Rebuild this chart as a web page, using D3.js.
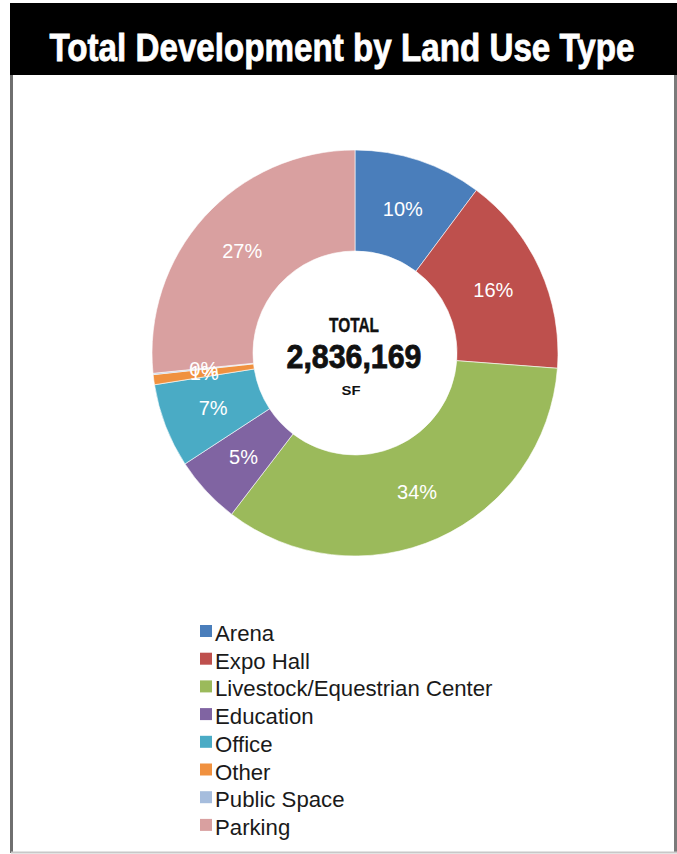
<!DOCTYPE html>
<html>
<head>
<meta charset="utf-8">
<script src="https://cdn.jsdelivr.net/npm/d3@7"></script>
<style>
  html, body { margin: 0; padding: 0; background: #ffffff; }
  svg { display: block; }
</style>
</head>
<body>
<svg id="chart" width="677" height="854"></svg>
<script>
// Land use categories and their share of total development (percent of SF)
const categories = ["Arena", "Expo Hall", "Livestock/Equestrian Center", "Education", "Office", "Other", "Public Space", "Parking"];
const shares = [10.2, 16.0, 34.2, 5.4, 6.7, 0.8, 0.1, 26.6];
const colors = ["#4a7ebb", "#be504d", "#9bba5b", "#8064a2", "#4aabc5", "#f0913f", "#a6bddd", "#d9a0a0"];
const titleText = "Total Development by Land Use Type";
const totalLabel = "TOTAL";
const totalValue = 2836169;
const totalUnit = "SF";

const svg = d3.select("#chart");

// Frame
svg.append("line").attr("x1", 11.5).attr("x2", 11.5).attr("y1", 70).attr("y2", 853)
  .attr("stroke", "#6f6f6f").attr("stroke-width", 3);
svg.append("line").attr("x1", 675.5).attr("x2", 675.5).attr("y1", 70).attr("y2", 853)
  .attr("stroke", "#7a7a7a").attr("stroke-width", 3);
svg.append("line").attr("x1", 11).attr("x2", 677).attr("y1", 852.5).attr("y2", 852.5)
  .attr("stroke", "#c8c8c8").attr("stroke-width", 2);

// Title bar
svg.append("rect").attr("x", 10).attr("y", 3).attr("width", 667).attr("height", 72).attr("fill", "#000000");
svg.append("text")
  .attr("x", 342).attr("y", 61)
  .attr("text-anchor", "middle")
  .attr("font-family", "'Liberation Sans Narrow', 'Arial Narrow', 'Liberation Sans', sans-serif")
  .attr("font-weight", "bold")
  .attr("font-size", 39)
  .attr("textLength", 585)
  .attr("lengthAdjust", "spacingAndGlyphs")
  .attr("stroke", "#ffffff")
  .attr("stroke-width", 0.8)
  .attr("fill", "#ffffff")
  .text(titleText);

// Donut
const cx = 355, cy = 353, rOuter = 203, rInner = 102;
const data = categories.map((c, i) => ({ name: c, value: shares[i], color: colors[i] }));
const pie = d3.pie().value(d => d.value).sort(null);
const arc = d3.arc().innerRadius(rInner).outerRadius(rOuter);
const labelArc = d3.arc().innerRadius(152).outerRadius(152);

const g = svg.append("g").attr("transform", `translate(${cx},${cy})`);
const arcs = pie(data);

g.selectAll("path.slice")
  .data(arcs)
  .join("path")
  .attr("class", "slice")
  .attr("d", arc)
  .attr("fill", d => d.data.color)
  .attr("stroke", "#ffffff")
  .attr("stroke-width", 0.6);

g.selectAll("text.pct")
  .data(arcs)
  .join("text")
  .attr("class", "pct")
  .attr("transform", d => `translate(${labelArc.centroid(d)})`)
  .attr("text-anchor", "middle")
  .attr("dy", "0.36em")
  .attr("font-family", "'Liberation Sans', Arial, Helvetica, sans-serif")
  .attr("font-size", 20)
  .attr("fill", "#ffffff")
  .text(d => Math.round(d.data.value) + "%");

// Centre total
const narrow = "'Liberation Sans Narrow', 'Arial Narrow', 'Liberation Sans', sans-serif";
g.append("text").attr("x", -1).attr("y", 332 - cy).attr("text-anchor", "middle")
  .attr("font-family", narrow).attr("font-weight", "bold").attr("font-size", 21)
  .attr("textLength", 50).attr("lengthAdjust", "spacingAndGlyphs")
  .attr("stroke", "#111").attr("stroke-width", 0.4)
  .attr("fill", "#111").text(totalLabel);
g.append("text").attr("x", -1).attr("y", 368 - cy).attr("text-anchor", "middle")
  .attr("font-family", narrow).attr("font-weight", "bold").attr("font-size", 33)
  .attr("textLength", 135).attr("lengthAdjust", "spacingAndGlyphs")
  .attr("stroke", "#111").attr("stroke-width", 0.8)
  .attr("fill", "#111").text(d3.format(",")(totalValue));
g.append("text").attr("x", -4).attr("y", 395 - cy).attr("text-anchor", "middle")
  .attr("font-family", narrow).attr("font-weight", "bold").attr("font-size", 13)
  .attr("textLength", 19).attr("lengthAdjust", "spacingAndGlyphs")
  .attr("fill", "#111").text(totalUnit);

// Legend
const legend = svg.append("g").attr("transform", "translate(200,641)");
const rows = legend.selectAll("g.row")
  .data(data)
  .join("g")
  .attr("class", "row")
  .attr("transform", (d, i) => `translate(0,${i * 27.7})`);
rows.append("rect")
  .attr("x", 0).attr("y", -16).attr("width", 12).attr("height", 12)
  .attr("fill", d => d.color);
rows.append("text")
  .attr("x", 15).attr("y", 0)
  .attr("font-family", "'Liberation Sans', Arial, Helvetica, sans-serif")
  .attr("font-size", 22.2)
  .attr("fill", "#1a1a1a")
  .text(d => d.name);
</script>
</body>
</html>
